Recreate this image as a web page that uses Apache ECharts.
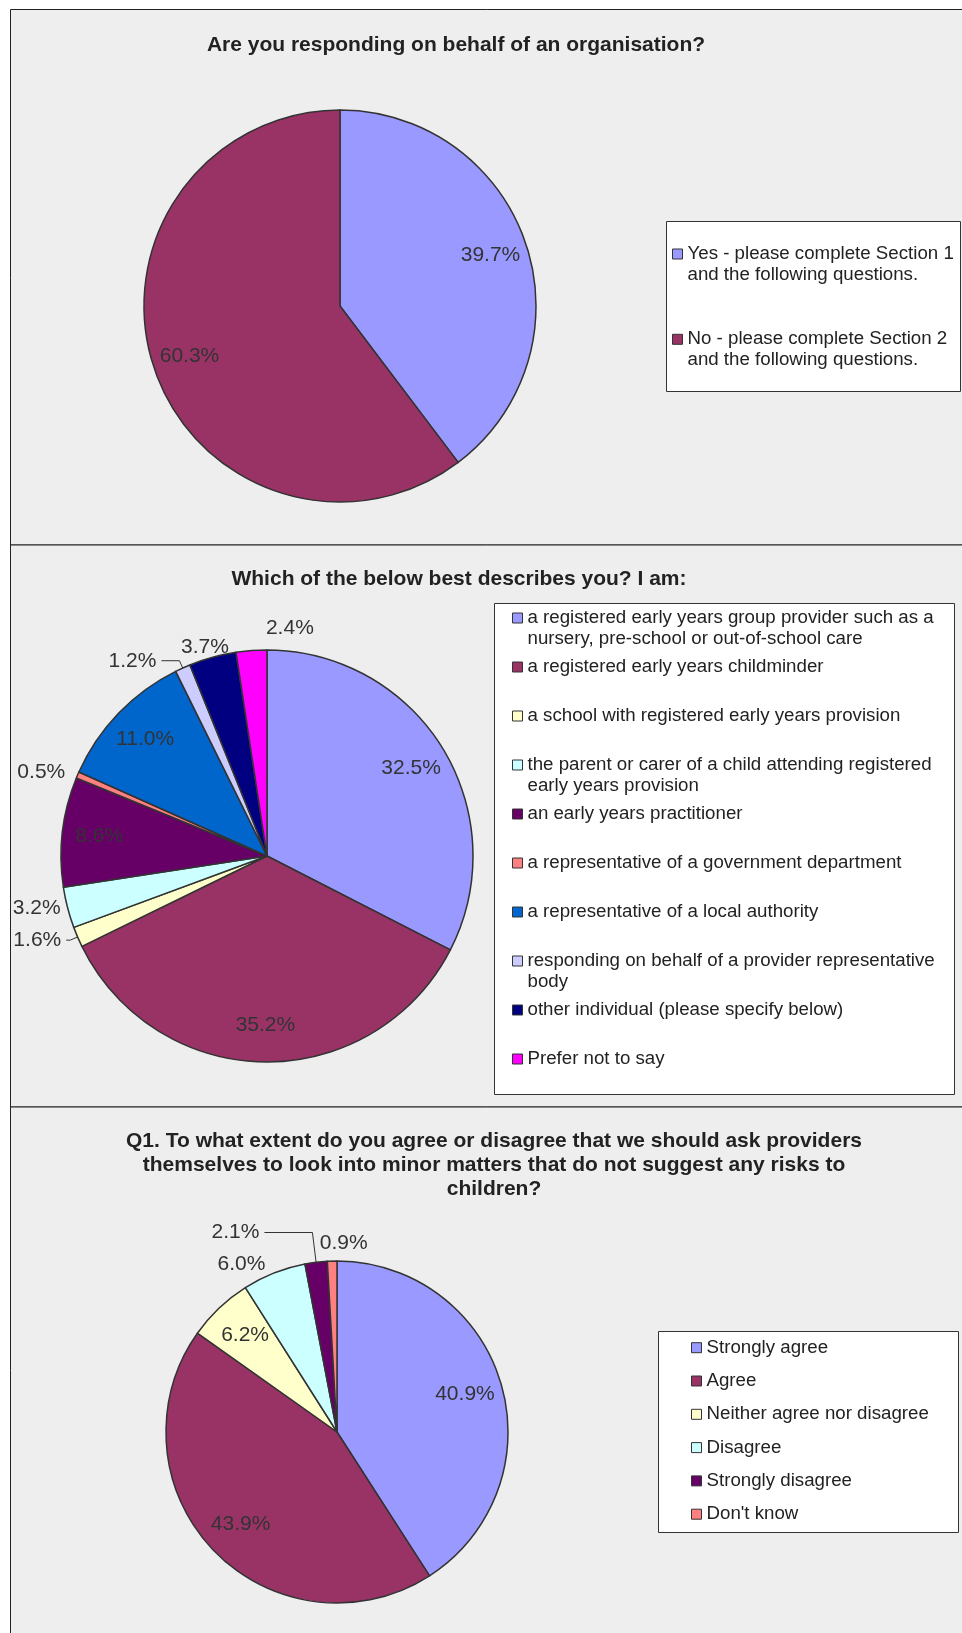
<!DOCTYPE html>
<html>
<head>
<meta charset="utf-8">
<title>Consultation responses</title>
<script src="https://cdn.jsdelivr.net/npm/echarts@6/dist/echarts.min.js"></script>
<style>
  html, body { margin: 0; padding: 0; background: #fff; }
  #chart { width: 962px; height: 1633px; }
</style>
</head>
<body>
<div id="chart"></div>
<script>
// --- data ---
const orgNames = [
  'Yes - please complete Section 1\nand the following questions.',
  'No - please complete Section 2\nand the following questions.'
];
const orgValues = [39.7, 60.3];

const roleNames = [
  'a registered early years group provider such as a\nnursery, pre-school or out-of-school care',
  'a registered early years childminder',
  'a school with registered early years provision',
  'the parent or carer of a child attending registered\nearly years provision',
  'an early years practitioner',
  'a representative of a government department',
  'a representative of a local authority',
  'responding on behalf of a provider representative\nbody',
  'other individual (please specify below)',
  'Prefer not to say'
];
const roleValues = [32.5, 35.2, 1.6, 3.2, 8.6, 0.5, 11.0, 1.2, 3.7, 2.4];

const q1Names = ['Strongly agree', 'Agree', 'Neither agree nor disagree', 'Disagree', 'Strongly disagree', "Don't know"];
const q1Values = [40.9, 43.9, 6.2, 6.0, 2.1, 0.9];

const titles = [
  'Are you responding on behalf of an organisation?',
  'Which of the below best describes you? I am:',
  'Q1. To what extent do you agree or disagree that we should ask providers\nthemselves to look into minor matters that do not suggest any risks to\nchildren?'
];

// excel 2003 style colours
const palette = ['#9999FF', '#993366', '#FFFFCC', '#CCFFFF', '#660066', '#FF8080', '#0066CC', '#CCCCFF', '#000080', '#FF00FF'];
const font = '"Liberation Sans", Arial, sans-serif';

// layout of the three panels
// outside: index -> [labelLine length, length2, show line]
const panels = [
  { names: orgNames, values: orgValues, title: titles[0], top: 9.5, height: 535.5,
    titleX: 456, titleY: 33, cx: 340, cy: 306, r: 196, labelR: 0.81,
    outside: {},
    box: [666, 221, 294, 170], legX: 672, legY: 254, legStep: 85.3 },
  { names: roleNames, values: roleValues, title: titles[1], top: 545, height: 562,
    titleX: 459, titleY: 567, cx: 267, cy: 856, r: 206, labelR: 0.82,
    outside: { 2: [8, 4, true], 3: [2, 0, false], 5: [8, 0, false], 7: [8, 18, true], 8: [10, -24, false], 9: [22, -69, false] },
    box: [494, 603, 460, 491], legX: 512, legY: 618, legStep: 49 },
  { names: q1Names, values: q1Values, title: titles[2], top: 1107, height: 600,
    titleX: 494, titleY: 1129.5, cx: 337, cy: 1432, r: 171, labelR: 0.78,
    outside: { 3: [10, 0, false], 4: [30, 48, true], 5: [18, -41, false] },
    box: [658, 1331, 300, 201], legX: 691, legY: 1347.7, legStep: 33.3 }
];

const fmt = p => p.value.toFixed(1) + '%';

let series = [], legends = [], titleList = [], graphics = [];

panels.forEach(p => {
  graphics.push({
    type: 'rect', z: 0,
    shape: { x: 10.5, y: p.top, width: 980, height: p.height },
    style: { fill: '#eeeeee', stroke: '#222', lineWidth: 1 }
  });
  graphics.push({
    type: 'rect', z: 1,
    shape: { x: p.box[0] + 0.5, y: p.box[1] + 0.5, width: p.box[2], height: p.box[3] },
    style: { fill: '#ffffff', stroke: '#333', lineWidth: 1 }
  });

  titleList.push({
    text: p.title, left: p.titleX, top: p.titleY, textAlign: 'center', padding: 0,
    textStyle: { fontFamily: font, fontSize: 21, fontWeight: 'bold', color: '#222', lineHeight: 24 }
  });

  // visible pie, with outside labels for the small slices
  series.push({
    type: 'pie', center: [p.cx, p.cy], radius: p.r, startAngle: 90, clockwise: true,
    avoidLabelOverlap: false, emphasis: { disabled: true },
    itemStyle: { borderColor: '#333', borderWidth: 1.5 },
    label: { position: 'outside', formatter: fmt, fontFamily: font, fontSize: 21, color: '#333', bleedMargin: 0 },
    labelLine: { length: 10, length2: 8, lineStyle: { color: '#333', width: 1 } },
    data: p.names.map((n, i) => {
      const o = p.outside[i];
      return {
        name: n, value: p.values[i],
        itemStyle: { color: palette[i] },
        label: { show: !!o },
        labelLine: o ? { show: o[2], length: o[0], length2: o[1] } : { show: false }
      };
    })
  });

  // transparent ring, only to place the inside labels near the rim
  const r0 = 2 * (p.labelR * p.r - 3) - p.r;
  series.push({
    type: 'pie', center: [p.cx, p.cy], radius: [r0, p.r], startAngle: 90, clockwise: true,
    silent: true, legendHoverLink: false, emphasis: { disabled: true },
    itemStyle: { color: 'rgba(0,0,0,0)', borderWidth: 0 },
    label: { position: 'inside', formatter: fmt, fontFamily: font, fontSize: 21, color: '#333' },
    labelLine: { show: false },
    data: p.names.map((n, i) => ({
      name: n, value: p.values[i],
      label: { show: !p.outside[i] }
    }))
  });

  // one legend per entry so the icon sits on the first text line
  p.names.forEach((n, i) => {
    const lines = n.split('\n').length;
    const half = (2 * lines - 1) * 20.5 / 2;
    legends.push({
      orient: 'vertical', left: p.legX, top: p.legY + i * p.legStep - half,
      padding: 0, itemGap: 0, itemWidth: 10, itemHeight: 10, icon: 'rect',
      selectedMode: false, data: [n],
      formatter: name => '\n'.repeat(lines - 1) + name,
      itemStyle: { borderColor: '#333', borderWidth: 1 },
      textStyle: { fontFamily: font, fontSize: 18.7, lineHeight: 20.5, color: '#222' }
    });
  });
});

const myChart = echarts.init(document.getElementById('chart'));
myChart.setOption({
  backgroundColor: '#ffffff',
  animation: false,
  title: titleList,
  legend: legends,
  graphic: graphics,
  series: series
});
</script>
</body>
</html>
